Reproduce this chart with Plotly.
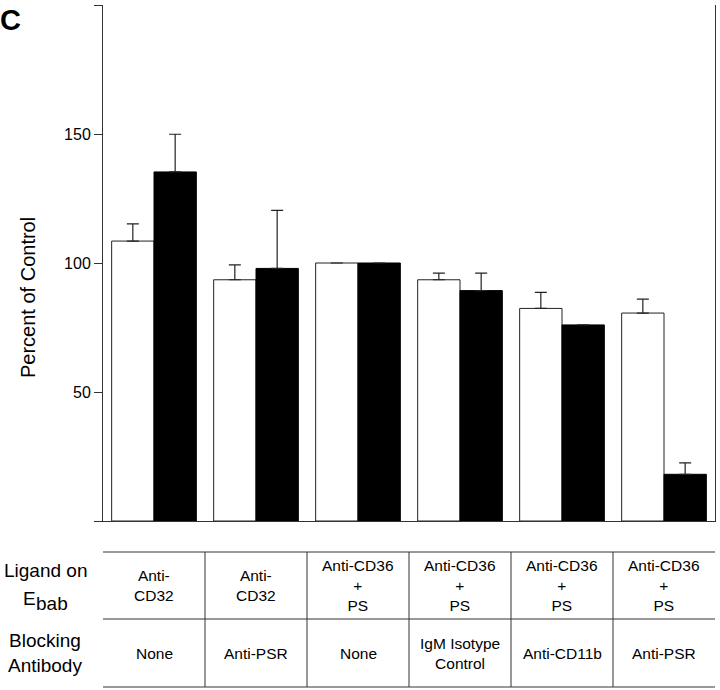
import plotly.graph_objects as go

# ---- data ----
categories = [0, 1, 2, 3, 4, 5]
white_values = [108.5, 93.5, 100.0, 93.5, 82.4, 80.6]
white_err = [6.7, 5.8, None, 2.6, 6.2, 5.4]
black_values = [135.3, 97.9, 100.0, 89.3, 76.0, 18.1]
black_err = [14.6, 22.5, None, 6.8, None, 4.4]

tick_vals = [0, 50, 100, 150, 200]
tick_text = ["", "50", "100", "150", ""]

ligand_row = ["Anti-<br>CD32", "Anti-<br>CD32", "Anti-CD36<br>+<br>PS",
              "Anti-CD36<br>+<br>PS", "Anti-CD36<br>+<br>PS", "Anti-CD36<br>+<br>PS"]
blocking_row = ["None", "Anti-PSR", "None", "IgM Isotype<br>Control",
                "Anti-CD11b", "Anti-PSR"]

FONT = "Liberation Sans, Arial, Helvetica, sans-serif"

fig = go.Figure()
fig.add_trace(go.Bar(
    x=categories, y=white_values,
    marker=dict(color="white", line=dict(color="#222", width=1)),
    error_y=dict(type="data", symmetric=False, array=white_err,
                 arrayminus=[0] * 6, color="#222", thickness=1.2, width=6),
    showlegend=False,
))
fig.add_trace(go.Bar(
    x=categories, y=black_values,
    marker=dict(color="black", line=dict(color="black", width=1)),
    error_y=dict(type="data", symmetric=False, array=black_err,
                 arrayminus=[0] * 6, color="#222", thickness=1.2, width=6),
    showlegend=False,
))

# plot area geometry (pixels)
L, R, T, B = 103, 715, 5, 521
W, H = R - L, B - T


def py(ypx):
    return (B - ypx) / H


def px(xpx):
    return (xpx - L) / W


shapes = []
line_style = dict(color="#333", width=1)
x_left, x_right = -0.55, 5.52
y_top, y_mid, y_bot = py(552), py(619), py(687)
for yy in (y_top, y_mid, y_bot):
    shapes.append(dict(type="line", xref="x", yref="paper", x0=x_left, x1=x_right,
                       y0=yy, y1=yy, line=line_style))
for xx in [x_left, 0.5, 1.5, 2.5, 3.5, 4.5, x_right]:
    shapes.append(dict(type="line", xref="x", yref="paper", x0=xx, x1=xx,
                       y0=y_top, y1=y_bot, line=line_style))

annotations = []
for c, txt in zip(categories, ligand_row):
    annotations.append(dict(x=c, y=py(585.5), xref="x", yref="paper", text=txt,
                            showarrow=False, font=dict(size=15.5, color="black", family=FONT),
                            xanchor="center", yanchor="middle"))
for c, txt in zip(categories, blocking_row):
    annotations.append(dict(x=c, y=py(653), xref="x", yref="paper", text=txt,
                            showarrow=False, font=dict(size=15.5, color="black", family=FONT),
                            xanchor="center", yanchor="middle"))

# row labels
annotations.append(dict(x=px(45), y=py(570), xref="paper", yref="paper", text="Ligand on",
                        showarrow=False, font=dict(size=19, color="black", family=FONT),
                        xanchor="center", yanchor="middle"))
annotations.append(dict(x=px(37), y=py(598), xref="paper", yref="paper", text="E",
                        showarrow=False, borderpad=0,
                        font=dict(size=19, color="black", family=FONT),
                        xanchor="right", yanchor="middle"))
annotations.append(dict(x=px(34.5), y=py(603), xref="paper", yref="paper", text="bab",
                        showarrow=False, borderpad=0,
                        font=dict(size=19, color="black", family=FONT),
                        xanchor="left", yanchor="middle"))
annotations.append(dict(x=px(45), y=py(653), xref="paper", yref="paper",
                        text="Blocking<br>Antibody",
                        showarrow=False, font=dict(size=19, color="black", family=FONT),
                        xanchor="center", yanchor="middle"))

# y title
annotations.append(dict(x=px(28), y=py(298), xref="paper", yref="paper",
                        text="Percent of Control", textangle=-90,
                        showarrow=False, font=dict(size=20, color="black", family=FONT),
                        xanchor="center", yanchor="middle"))
# panel letter
annotations.append(dict(x=px(-2), y=py(20), xref="paper", yref="paper",
                        text="<b>C</b>", showarrow=False,
                        font=dict(size=29, color="black", family=FONT),
                        xanchor="left", yanchor="middle"))

fig.update_layout(
    width=720, height=690,
    margin=dict(l=L, r=720 - R, t=T, b=690 - B),
    paper_bgcolor="white", plot_bgcolor="white",
    barmode="group", bargap=0.17, bargroupgap=0,
    font=dict(family=FONT, color="black"),
    shapes=shapes, annotations=annotations,
    xaxis=dict(range=[-0.5, 5.5], showticklabels=False, ticks="",
               showline=True, linecolor="#333", linewidth=1,
               showgrid=False, zeroline=False, fixedrange=True),
    yaxis=dict(range=[0, 200], tickvals=tick_vals, ticktext=tick_text,
               ticks="outside", ticklen=8, tickcolor="#333", tickwidth=1,
               showline=True, linecolor="#333", linewidth=1, mirror=True,
               showgrid=False, zeroline=False,
               tickfont=dict(size=16, color="black", family=FONT)),
)

fig.write_html("out.html", config={"displayModeBar": False},
               post_script="document.body.style.margin='0';document.body.style.overflow='hidden';")
